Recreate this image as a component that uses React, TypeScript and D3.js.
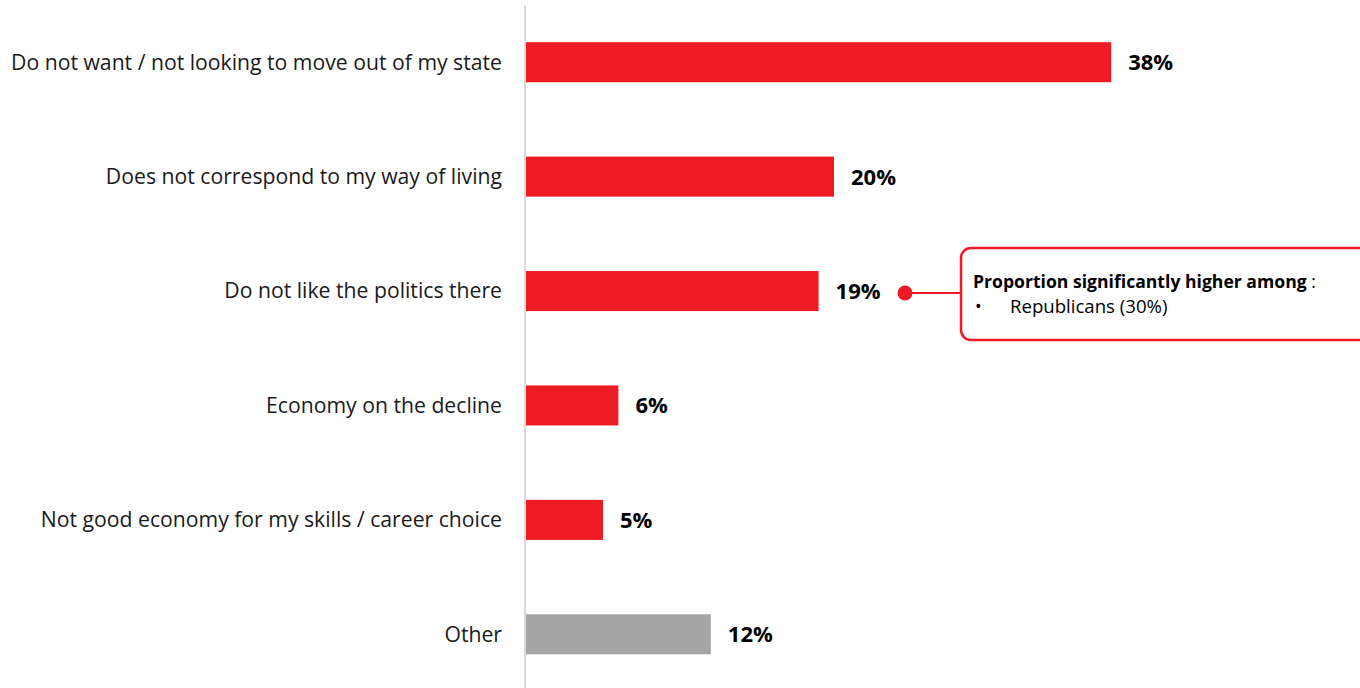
import React, { useEffect, useRef } from "react";
import * as d3 from "d3";

const categories = [
  "Do not want / not looking to move out of my state",
  "Does not correspond to my way of living",
  "Do not like the politics there",
  "Economy on the decline",
  "Not good economy for my skills / career choice",
  "Other",
];
const values = [38, 20, 19, 6, 5, 12];
const barColors = ["#ED1C24", "#ED1C24", "#ED1C24", "#ED1C24", "#ED1C24", "#A6A6A6"];
const calloutTitle = "Proportion significantly higher among";
const calloutItems = ["Republicans (30%)"];
const calloutIndex = 2;

const W = 1360;
const H = 688;
const FONT = "'Open Sans', sans-serif";

export default function App() {
  const ref = useRef<SVGSVGElement>(null);
  useEffect(() => {
    const svg = d3.select(ref.current);
    svg.selectAll("*").remove();
    const x = d3.scaleLinear().domain([0, 40]).range([526, 1142]);
    const y = d3.scaleBand<string>().domain(categories).range([5, 691.5]).paddingInner(0.65).paddingOuter(0.325);

    const data = categories.map((c, i) => ({ c, v: values[i], color: barColors[i] }));

    svg.append("line").attr("x1", 525).attr("x2", 525).attr("y1", 5).attr("y2", H)
      .attr("stroke", "#D9D9D9").attr("stroke-width", 2);

    svg.selectAll("rect.bar").data(data).enter().append("rect")
      .attr("class", "bar")
      .attr("x", x(0))
      .attr("y", (d) => y(d.c)!)
      .attr("width", (d) => x(d.v) - x(0))
      .attr("height", y.bandwidth())
      .attr("fill", (d) => d.color);

    svg.selectAll("text.cat").data(data).enter().append("text")
      .attr("class", "cat")
      .attr("x", 502)
      .attr("y", (d) => y(d.c)! + y.bandwidth() / 2)
      .attr("dy", "0.35em")
      .attr("text-anchor", "end")
      .attr("font-family", FONT)
      .attr("font-size", 21.2)
      .attr("fill", "#1a1a1a")
      .text((d) => d.c);

    svg.selectAll("text.val").data(data).enter().append("text")
      .attr("class", "val")
      .attr("x", (d) => x(d.v) + 17)
      .attr("y", (d) => y(d.c)! + y.bandwidth() / 2)
      .attr("dy", "0.36em")
      .attr("font-family", FONT)
      .attr("font-size", 22)
      .attr("font-weight", "bold")
      .attr("fill", "#000")
      .text((d) => d.v + "%");

    // callout
    const cy = y(categories[calloutIndex])! + y.bandwidth() / 2 + 2;
    const g = svg.append("g");
    g.append("line").attr("x1", 905).attr("x2", 961).attr("y1", cy).attr("y2", cy)
      .attr("stroke", "#ED1C24").attr("stroke-width", 2);
    g.append("circle").attr("cx", 905).attr("cy", cy).attr("r", 7.5).attr("fill", "#ED1C24");
    g.append("rect").attr("x", 961).attr("y", 248).attr("width", 420).attr("height", 92)
      .attr("rx", 10).attr("fill", "#fff").attr("stroke", "#ED1C24").attr("stroke-width", 2.5);
    const t1 = g.append("text").attr("x", 973).attr("y", 288)
      .attr("font-family", FONT).attr("font-size", 17.6).attr("fill", "#000");
    t1.append("tspan").attr("font-weight", "bold").text(calloutTitle);
    t1.append("tspan").text(" :");
    calloutItems.forEach((it, i) => {
      g.append("text").attr("x", 975).attr("y", 313 + i * 20)
        .attr("font-family", FONT).attr("font-size", 17.6).text("•");
      g.append("text").attr("x", 1010).attr("y", 313 + i * 20)
        .attr("font-family", FONT).attr("font-size", 18.6).text(it);
    });
  }, []);
  return (
    <svg ref={ref} width={W} height={H} style={{ position: "absolute", left: 0, top: 0, background: "#fff" }} />
  );
}
